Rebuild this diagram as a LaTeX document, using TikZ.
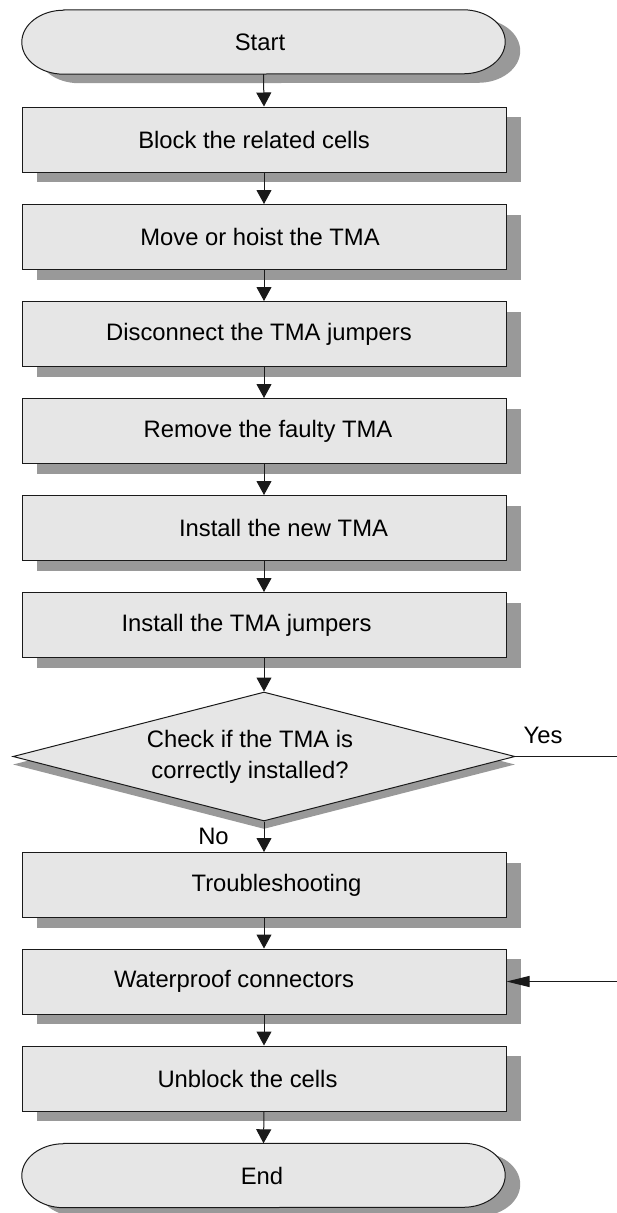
\documentclass[tikz,border=0pt]{standalone}
\usepackage{fontspec}
\setmainfont{Liberation Sans}
\usetikzlibrary{arrows.meta,shapes.geometric,shadows,backgrounds,calc}
\definecolor{boxfill}{RGB}{230,230,230}
\definecolor{shadowgray}{RGB}{153,153,153}
\definecolor{linecol}{RGB}{26,26,26}
% text set off-centre inside its node: #1 is twice the horizontal shift
\newcommand\offtext[2]{\makebox[0pt]{\hspace*{#1}#2}}

\begin{document}
\begin{tikzpicture}[x=1pt,y=1pt,
  every node/.style={font=\fontsize{23.8}{31}\selectfont, text=black},
  stepbox/.style={rectangle, draw=linecol, line width=1pt, fill=boxfill,
    minimum width=484pt, minimum height=65pt, inner sep=0pt,
    drop shadow={shadow xshift=15pt, shadow yshift=-10pt, fill=shadowgray, opacity=1, draw=none}},
  decision/.style={diamond, draw=linecol, line width=1pt, fill=boxfill,
    minimum width=502pt, minimum height=129pt, inner sep=0pt,
    drop shadow={shadow xshift=0pt, shadow yshift=-8pt, fill=shadowgray, opacity=1, draw=none}},
  termtext/.style={rectangle, minimum width=483pt, minimum height=64pt, inner sep=0pt},
  termline/.style={draw=linecol, line width=1pt, fill=boxfill},
  flow/.style={draw=linecol, line width=1pt, -{Triangle[length=14pt,width=15pt]}},
  sideflow/.style={draw=linecol, line width=1pt, -{Triangle[length=23pt,width=11pt]}},
  plainline/.style={draw=linecol, line width=1pt},
  tag/.style={inner sep=0pt}
]
\useasboundingbox (0,0) rectangle (617,-1213);

% terminals (outline drawn on the background layer below)
\node[termtext] (start) at (263.5,-42) {\offtext{-7pt}{Start}};
\node[termtext] (stop)  at (263.5,-1175.5) {\offtext{-3pt}{End}};

% process steps
\node[stepbox] (b1) at (264,-139.5) {\offtext{-20pt}{Block the related cells}};
\node[stepbox] (b2) at (264,-237)   {\offtext{-8pt}{Move or hoist the TMA}};
\node[stepbox] (b3) at (264,-334)   {\raisebox{3pt}{\offtext{-10pt}{Disconnect the TMA jumpers}}};
\node[stepbox] (b4) at (264,-431)   {\offtext{8pt}{Remove the faulty TMA}};
\node[stepbox] (b5) at (264,-528)   {\offtext{39pt}{Install the new TMA}};
\node[stepbox] (b6) at (264,-625)   {\offtext{-35pt}{Install the TMA jumpers}};

% check
\node[decision] (check) at (264,-756.5)
  {\raisebox{-3pt}{\makebox[0pt]{\hspace*{-28pt}\begin{tabular}{@{}c@{}}Check if the TMA is\\correctly installed?\end{tabular}}}};

\node[stepbox] (b7) at (264,-885)    {\offtext{25pt}{Troubleshooting}};
\node[stepbox] (b8) at (264,-981.5)  {\offtext{-60pt}{Waterproof connectors}};
\node[stepbox] (b9) at (264,-1078.5) {\offtext{-33pt}{Unblock the cells}};

% branch labels
\node[tag] (yes) at (543,-735) {Yes};
\node[tag] (no)  at (213.5,-836) {No};

% free ends of the two side connectors
\coordinate (yesend) at (617,-756.5);
\coordinate (backin) at (617,-981.5);

% terminal outlines with their shadows
\begin{scope}[on background layer]
\foreach \n in {start,stop}{
  \fill[shadowgray] ($(\n.north west)+(57,-9)$) -- ($(\n.north east)+(-27,-9)$)
    arc[start angle=90,end angle=-90,x radius=42pt,y radius=32pt]
    -- ($(\n.south west)+(57,-9)$)
    arc[start angle=270,end angle=90,x radius=42pt,y radius=32pt] -- cycle;
  \path[termline] ($(\n.north west)+(42,0)$) -- ($(\n.north east)+(-42,0)$)
    arc[start angle=90,end angle=-90,x radius=42pt,y radius=32pt]
    -- ($(\n.south west)+(42,0)$)
    arc[start angle=270,end angle=90,x radius=42pt,y radius=32pt] -- cycle;
}
\end{scope}

% connectors
\draw[flow] (start.south) -- (b1.north);
\draw[flow] (b1.south) -- (b2.north);
\draw[flow] (b2.south) -- (b3.north);
\draw[flow] (b3.south) -- (b4.north);
\draw[flow] (b4.south) -- (b5.north);
\draw[flow] (b5.south) -- (b6.north);
\draw[flow] (b6.south) -- (check.north);
\draw[flow] (check.south) -- (b7.north);
\draw[flow] (b7.south) -- (b8.north);
\draw[flow] (b8.south) -- (b9.north);
\draw[flow] (b9.south) -- (stop.north);
\draw[plainline] (check.east) -- (yesend);
\draw[sideflow] (backin) -- (b8.east);
\end{tikzpicture}
\end{document}
